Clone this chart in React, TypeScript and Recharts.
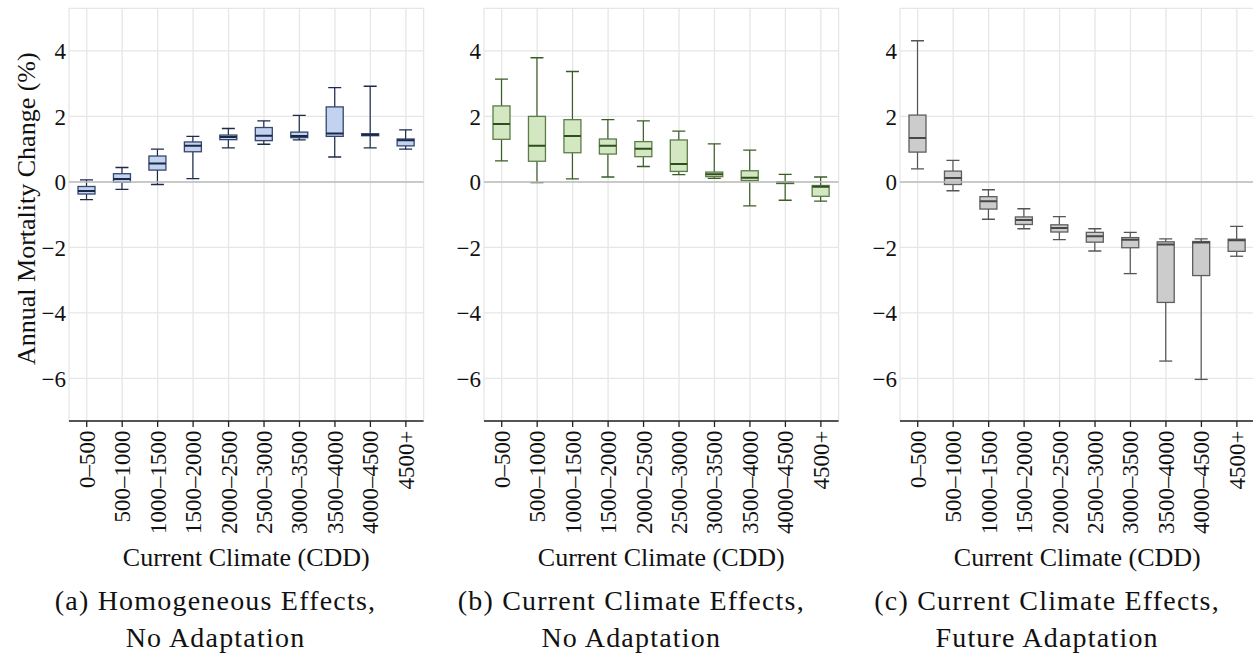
import { Bar, BarChart, CartesianGrid, ReferenceLine, XAxis, YAxis } from "recharts";

const bins = [
  "0–500", "500–1000", "1000–1500", "1500–2000", "2000–2500",
  "2500–3000", "3000–3500", "3500–4000", "4000–4500", "4500+",
];

// (a) homogeneous effects, no adaptation
const homMin = [-0.54, -0.23, -0.08, 0.10, 1.04, 1.15, 1.28, 0.76, 1.04, 1.00];
const homQ1 = [-0.37, -0.01, 0.36, 0.92, 1.29, 1.26, 1.35, 1.39, 1.41, 1.10];
const homMed = [-0.28, 0.09, 0.56, 1.10, 1.37, 1.41, 1.40, 1.48, 1.44, 1.27];
const homQ3 = [-0.14, 0.25, 0.79, 1.22, 1.43, 1.66, 1.52, 2.29, 1.47, 1.31];
const homMax = [0.06, 0.44, 1.00, 1.39, 1.63, 1.86, 2.03, 2.88, 2.92, 1.59];

// (b) current climate effects, no adaptation
const curMin = [0.64, -0.02, 0.09, 0.15, 0.47, 0.22, 0.11, -0.73, -0.56, -0.59];
const curQ1 = [1.30, 0.63, 0.89, 0.85, 0.77, 0.32, 0.16, 0.04, -0.05, -0.44];
const curMed = [1.77, 1.10, 1.40, 1.10, 1.01, 0.55, 0.23, 0.13, -0.02, -0.15];
const curQ3 = [2.32, 2.00, 1.90, 1.31, 1.23, 1.28, 0.30, 0.34, 0.00, -0.11];
const curMax = [3.14, 3.79, 3.37, 1.90, 1.86, 1.55, 1.16, 0.97, 0.23, 0.15];

// (c) current climate effects, future adaptation
const futMin = [0.40, -0.27, -1.14, -1.43, -1.76, -2.11, -2.80, -5.47, -6.03, -2.27];
const futQ1 = [0.91, -0.08, -0.83, -1.30, -1.53, -1.84, -2.01, -3.68, -2.86, -2.12];
const futMed = [1.34, 0.12, -0.59, -1.16, -1.41, -1.66, -1.77, -1.91, -1.85, -1.78];
const futQ3 = [2.04, 0.33, -0.45, -1.07, -1.31, -1.54, -1.70, -1.83, -1.82, -1.75];
const futMax = [4.31, 0.66, -0.24, -0.82, -1.06, -1.43, -1.54, -1.74, -1.74, -1.36];

const yTicks = [-6, -4, -2, 0, 2, 4];

const FONT = "'Liberation Serif', 'Times New Roman', serif";

type Theme = { fill: string; edge: string; whisker: string; median: string };

const panels = [
  {
    caption: ["(a) Homogeneous Effects,", "No Adaptation"],
    stats: [homMin, homQ1, homMed, homQ3, homMax],
    theme: { fill: "#c3d2ee", edge: "#34476e", whisker: "#1d2b4b", median: "#1a2848" },
  },
  {
    caption: ["(b) Current Climate Effects,", "No Adaptation"],
    stats: [curMin, curQ1, curMed, curQ3, curMax],
    theme: { fill: "#d4e7c3", edge: "#5b7d47", whisker: "#3a5c25", median: "#2f4e1d" },
  },
  {
    caption: ["(c) Current Climate Effects,", "Future Adaptation"],
    stats: [futMin, futQ1, futMed, futQ3, futMax],
    theme: { fill: "#cccccc", edge: "#5e5e5e", whisker: "#555555", median: "#484848" },
  },
];

const fmt = (v: number) => (v < 0 ? `\u2212${-v}` : `${v}`);

// bar spans min..max; quartiles are placed along that same span
function BoxShape(props: any) {
  const { x, y, width, height, payload, theme } = props as {
    x: number; y: number; width: number; height: number; payload: any; theme: Theme;
  };
  const top = Math.min(y, y + height);
  const bottom = Math.max(y, y + height);
  const span = payload.max - payload.min;
  const py = (v: number) => top + ((payload.max - v) / span) * (bottom - top);
  const cx = x + width / 2;
  const cap = 13;
  const yq1 = py(payload.q1);
  const yq3 = py(payload.q3);
  const ym = py(payload.med);
  return (
    <g>
      <line x1={cx} x2={cx} y1={top} y2={yq3} stroke={theme.whisker} strokeWidth={1.2} />
      <line x1={cx} x2={cx} y1={yq1} y2={bottom} stroke={theme.whisker} strokeWidth={1.2} />
      <line x1={cx - cap / 2} x2={cx + cap / 2} y1={top} y2={top} stroke={theme.whisker} strokeWidth={1.3} />
      <line x1={cx - cap / 2} x2={cx + cap / 2} y1={bottom} y2={bottom} stroke={theme.whisker} strokeWidth={1.3} />
      <rect x={x} y={yq3} width={width} height={Math.max(yq1 - yq3, 0.5)} fill={theme.fill} stroke={theme.edge} strokeWidth={1.3} />
      <line x1={x} x2={x + width} y1={ym} y2={ym} stroke={theme.median} strokeWidth={2} />
    </g>
  );
}

function BinTick(props: any) {
  const { x, y, payload } = props;
  return (
    <text
      transform={`translate(${x + 8},${y + 1.5}) rotate(-90)`}
      textAnchor="end"
      fontSize={23}
      fontFamily={FONT}
      fill="#111"
    >
      {payload.value}
    </text>
  );
}

function Panel({ index }: { index: number }) {
  const p = panels[index];
  const [mins, q1s, meds, q3s, maxs] = p.stats;
  const rows = bins.map((bin, i) => ({
    bin, min: mins[i], q1: q1s[i], med: meds[i], q3: q3s[i], max: maxs[i],
  }));
  const left = 0.5 + index * 415.8;
  return (
    <div style={{ position: "absolute", left, top: 0 }}>
      <BarChart
        width={425}
        height={580}
        data={rows}
        margin={{ top: 8.3, right: 2.4, left: 0, bottom: 0 }}
        barSize={17}
      >
        <CartesianGrid stroke="#e6e6e6" strokeWidth={1.3} />
        <XAxis
          dataKey="bin"
          interval={0}
          height={159}
          tick={<BinTick />}
          tickSize={6}
          tickLine={{ stroke: "#222", strokeWidth: 1.3 }}
          axisLine={{ stroke: "#222", strokeWidth: 1.5 }}
          label={{
            content: ({ viewBox }: any) => (
              <text
                x={viewBox.x + viewBox.width / 2}
                y={viewBox.y + 144.5}
                textAnchor="middle"
                fontSize={26}
                fontFamily={FONT}
                fill="#111"
              >
                Current Climate (CDD)
              </text>
            ),
          }}
        />
        <YAxis
          type="number"
          domain={[-7.3, 5.3]}
          ticks={yTicks}
          allowDataOverflow
          width={68}
          axisLine={false}
          tickLine={false}
          tickSize={3}
          tickMargin={0}
          tickFormatter={fmt}
          tick={{ fontSize: 23, fontFamily: FONT, fill: "#111" }}
          label={
            index === 0
              ? {
                  content: ({ viewBox }: any) => (
                    <text
                      transform={`translate(${viewBox.x + 34},${viewBox.y + viewBox.height / 2 - 6}) rotate(-90)`}
                      textAnchor="middle"
                      fontSize={26}
                      fontFamily={FONT}
                      fill="#111"
                    >
                      Annual Mortality Change (%)
                    </text>
                  ),
                }
              : undefined
          }
        />
        <ReferenceLine y={0} stroke="#bdbdbd" strokeWidth={1.5} />
        <Bar
          dataKey={(d: any) => [d.min, d.max]}
          isAnimationActive={false}
          shape={(s: any) => <BoxShape {...s} theme={p.theme} />}
        />
      </BarChart>
      <div
        style={{
          position: "absolute",
          left: 215 - 210,
          top: 582.1,
          width: 420,
          textAlign: "center",
          fontFamily: FONT,
          fontSize: 28,
          letterSpacing: 1.2,
          lineHeight: "37px",
          color: "#111",
          whiteSpace: "nowrap",
        }}
      >
        <div>{p.caption[0]}</div>
        <div>{p.caption[1]}</div>
      </div>
    </div>
  );
}

export default function App() {
  return (
    <div
      style={{
        position: "absolute",
        left: 0,
        top: 0,
        width: 1253,
        height: 658,
        overflow: "hidden",
        background: "#fff",
      }}
    >
      <Panel index={0} />
      <Panel index={1} />
      <Panel index={2} />
    </div>
  );
}
